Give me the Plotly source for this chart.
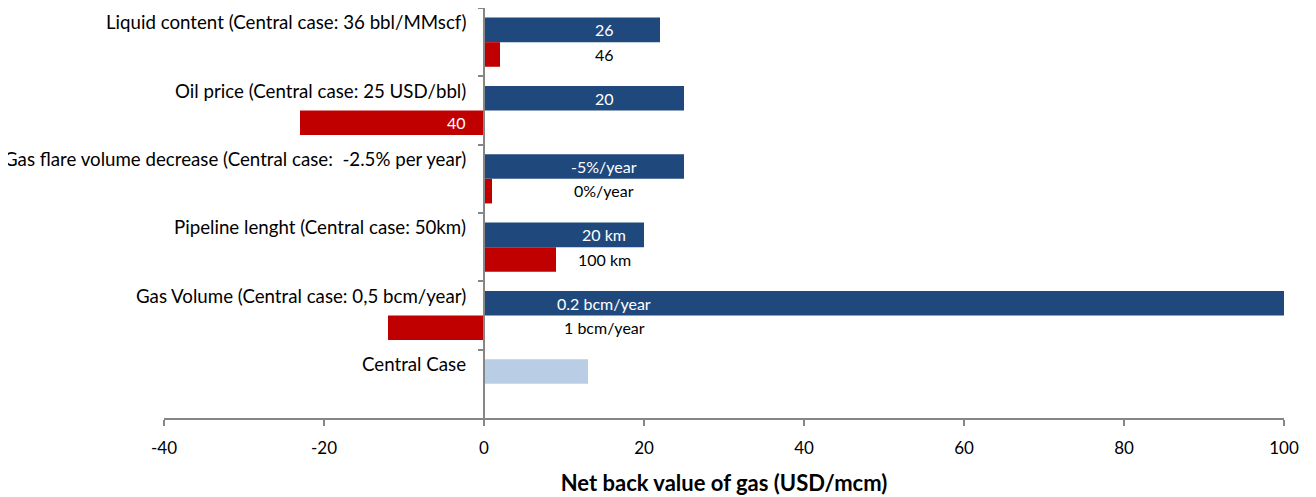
import plotly.graph_objects as go

categories = [
    "Liquid content (Central case: 36 bbl/MMscf)",
    "Oil price (Central case: 25 USD/bbl)",
    "Gas flare volume decrease (Central case:  -2.5% per year)",
    "Pipeline lenght (Central case: 50km)",
    "Gas Volume (Central case: 0,5 bcm/year)",
    "Central Case",
]
high_values = [22, 25, 25, 20, 100, 13]
low_values = [2, -23, 1, 9, -12, None]
high_labels = ["26", "20", "-5%/year", "20 km", "0.2 bcm/year", ""]
low_labels = ["46", "40", "0%/year", "100 km", "1 bcm/year", ""]
label_x_high = [15, 15, 15, 15, 15, None]
label_x_low = [15, -3.5, 15, 15, 15, None]
x_ticks = [-40, -20, 0, 20, 40, 60, 80, 100]

DARK_BLUE = "#1F497D"
LIGHT_BLUE = "#B9CDE5"
RED = "#C00000"
FONT = "Lato, Carlito, Calibri, sans-serif"

high_colors = [DARK_BLUE] * (len(categories) - 1) + [LIGHT_BLUE]

fig = go.Figure()
fig.add_trace(go.Bar(y=categories, x=high_values, orientation="h",
                     marker=dict(color=high_colors, line=dict(width=0)),
                     showlegend=False, hoverinfo="x+y"))
fig.add_trace(go.Bar(y=categories, x=low_values, orientation="h",
                     marker=dict(color=RED, line=dict(width=0)),
                     showlegend=False, hoverinfo="x+y"))

annotations = []
for cat in categories:
    annotations.append(dict(x=0, y=cat, xref="x", yref="y", text=cat,
                            showarrow=False, xanchor="right", yanchor="middle",
                            xshift=-16, yshift=20,
                            font=dict(family=FONT, size=18.7, color="#000000")))
for cat, lx, lab in zip(categories, label_x_high, high_labels):
    if lab:
        annotations.append(dict(x=lx, y=cat, xref="x", yref="y", text=lab,
                                showarrow=False, xanchor="center", yanchor="middle",
                                yshift=12.5,
                                font=dict(family=FONT, size=16, color="#FFFFFF")))
for i, (cat, lx, lab) in enumerate(zip(categories, label_x_low, low_labels)):
    if lab:
        col = "#FFFFFF" if low_values[i] is not None and low_values[i] < -15 else "#000000"
        annotations.append(dict(x=lx, y=cat, xref="x", yref="y", text=lab,
                                showarrow=False, xanchor="center", yanchor="middle",
                                yshift=-12,
                                font=dict(family=FONT, size=16, color=col)))

fig.update_layout(
    width=1308, height=489,
    margin=dict(l=156, r=32, t=0, b=79),
    paper_bgcolor="white", plot_bgcolor="white",
    barmode="group", bargap=0.28, bargroupgap=0,
    font=dict(family=FONT, size=18, color="#000000"),
    annotations=annotations,
    xaxis=dict(range=[-40, 100], tickvals=x_ticks, ticktext=[str(v) for v in x_ticks],
               showgrid=False, zeroline=False, showline=True, linecolor="#868686",
               linewidth=1.5, ticks="outside", ticklen=6, tickcolor="#868686",
               tickwidth=1.5, ticklabelstandoff=8,
               tickfont=dict(family=FONT, size=17, color="#000000"),
               title=dict(text="<b>Net back value of gas (USD/mcm)</b>",
                          font=dict(family=FONT, size=22, color="#000000"),
                          standoff=18),
               fixedrange=True),
    yaxis=dict(autorange="reversed", showticklabels=False, showgrid=False,
               zeroline=False, showline=True, linecolor="#868686", linewidth=1.5,
               ticks="outside", ticklen=5, tickcolor="#868686", tickwidth=1.5,
               tickson="boundaries", anchor="free", position=40 / 140,
               fixedrange=True),
)

fig.write_html("out.html")
